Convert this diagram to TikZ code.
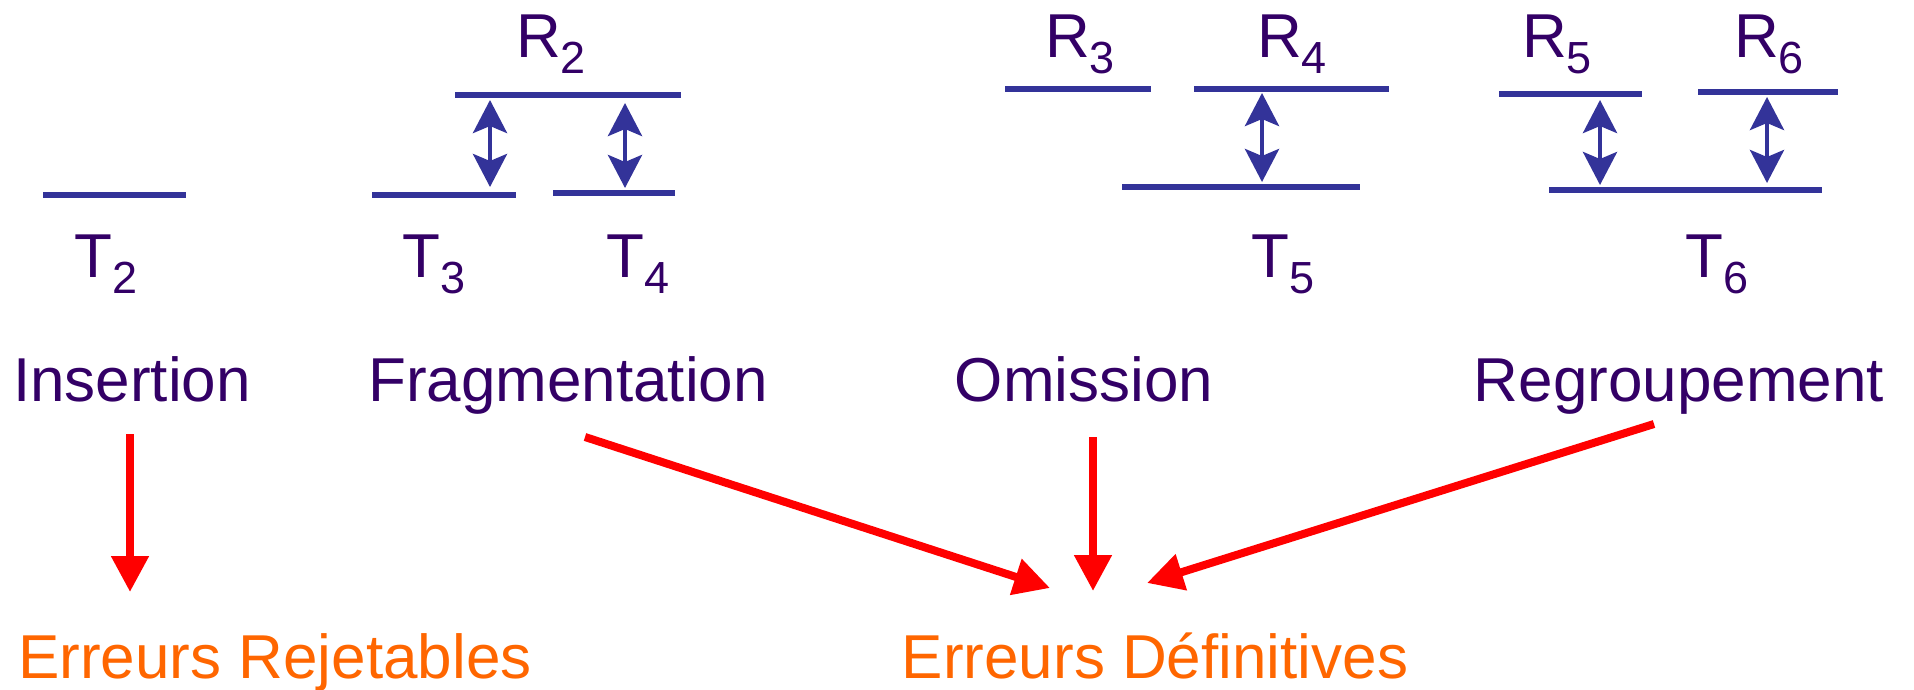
\documentclass[tikz,border=0pt]{standalone}
\usepackage{fontspec}
\setmainfont{Liberation Sans}
\usetikzlibrary{arrows.meta}
\definecolor{lvblue}{RGB}{51,51,153}
\definecolor{lbpurple}{RGB}{51,0,102}
\definecolor{errred}{RGB}{255,0,0}
\definecolor{errorange}{RGB}{255,102,0}
\newcommand\lvl[2]{#1\raisebox{-16pt}{\fontsize{45}{45}\selectfont #2}}
\tikzset{
  bar/.style={lvblue,line width=5.5pt},
  link/.style={lvblue,line width=4.5pt,{Stealth[length=33pt,width=34pt,inset=7pt]}-{Stealth[length=33pt,width=34pt,inset=7pt]}},
  flow/.style={errred,line width=8pt,-{Triangle[length=36pt,width=36pt]}},
  lbl/.style={text=lbpurple,inner sep=0pt,anchor=base,font=\fontsize{62}{62}\selectfont},
  err/.style={lbl,text=errorange}
}

\begin{document}
\begin{tikzpicture}[x=1pt,y=-1pt]
  \useasboundingbox (0,0) rectangle (1914,689);
  \coordinate (F1a) at (490,100);  \coordinate (F1b) at (490,187);
  \coordinate (F2a) at (625,103);  \coordinate (F2b) at (625,188);
  \coordinate (Oa)  at (1262,93);  \coordinate (Ob)  at (1262,182);
  \coordinate (G1a) at (1600,100); \coordinate (G1b) at (1600,185);
  \coordinate (G2a) at (1767,97);  \coordinate (G2b) at (1767,183);
  \draw[bar] (43,195) -- (186,195);
  \draw[bar] (372,195) -- (516,195) (553,193) -- (675,193) (455,95) -- (681,95);
  \draw[bar] (1005,89) -- (1151,89) (1194,89) -- (1389,89) (1122,187) -- (1360,187);
  \draw[bar] (1499,94) -- (1642,94) (1698,92) -- (1838,92) (1549,190) -- (1822,190);
  \draw[link] (F1a) -- (F1b);
  \draw[link] (F2a) -- (F2b);
  \draw[link] (Oa) -- (Ob);
  \draw[link] (G1a) -- (G1b);
  \draw[link] (G2a) -- (G2b);
  \node[lbl] (T2) at (106,277) {\lvl{T}{2}};
  \node[lbl] (T3) at (434,277) {\lvl{T}{3}};
  \node[lbl] (T4) at (638,277) {\lvl{T}{4}};
  \node[lbl] (R2) at (551,57) {\lvl{R}{2}};
  \node[lbl] (R3) at (1080,57) {\lvl{R}{3}};
  \node[lbl] (R4) at (1292,57) {\lvl{R}{4}};
  \node[lbl] (T5) at (1283,277) {\lvl{T}{5}};
  \node[lbl] (R5) at (1557,57) {\lvl{R}{5}};
  \node[lbl] (R6) at (1769,57) {\lvl{R}{6}};
  \node[lbl] (T6) at (1717,277) {\lvl{T}{6}};
  \node[lbl] (ins) at (132,401) {Insertion};
  \node[lbl] (frag) at (568,401) {Fragmentation};
  \node[lbl] (omi) at (1084,401) {Omission};
  \node[lbl] (regr) at (1679,401) {Regroupement};
  \node[err] (rej) at (275,678) {Erreurs Rejetables};
  \node[err] (def) at (1155,678) {Erreurs Définitives};
  \coordinate (insa) at (130,434);   \coordinate (insb) at (130,592);
  \coordinate (fraga) at (585,437);  \coordinate (fragb) at (1050,588);
  \coordinate (omia) at (1093,437);  \coordinate (omib) at (1093,591);
  \coordinate (regra) at (1654,424); \coordinate (regrb) at (1147,583);
  \draw[flow] (insa) -- (insb);
  \draw[flow] (fraga) -- (fragb);
  \draw[flow] (omia) -- (omib);
  \draw[flow] (regra) -- (regrb);
\end{tikzpicture}
\end{document}
